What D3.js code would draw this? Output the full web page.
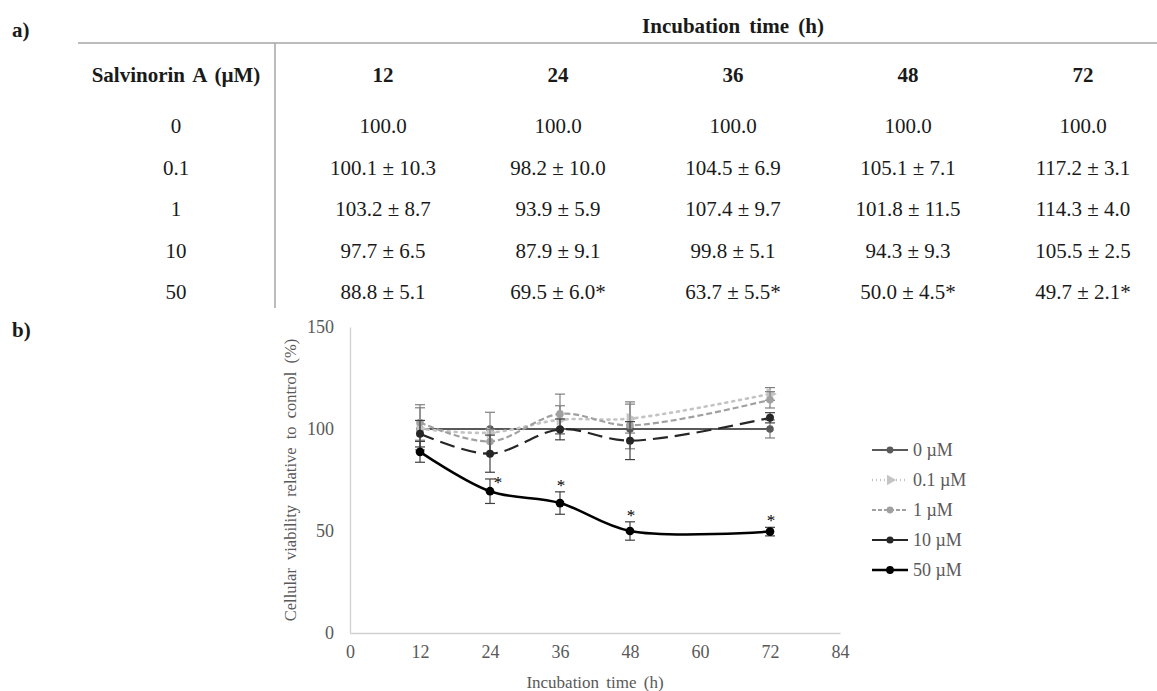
<!DOCTYPE html>
<html lang="en">
<head>
    <meta charset="UTF-8">
    <title>Salvinorin A viability</title>
    <script src="https://d3js.org/d3.v7.min.js"></script>
    <style>
        body { margin: 0; background: #fff; }
        svg { display: block; font-family: "Liberation Serif", "Times New Roman", serif; }
        .tbl { fill: #1a1a1a; font-size: 21px; }
        .bold { font-weight: bold; }
        .axis text { fill: #595959; font-size: 18px; font-family: "Liberation Serif", serif; }
        .axis path, .axis line { stroke: #d0d0d0; }
    </style>
</head>
<body>
<div id="chart"></div>
<script>
    // Data
    const times = [12, 24, 36, 48, 72];
    const concLabels = ["0", "0.1", "1", "10", "50"];
    const seriesNames = ["0 µM", "0.1 µM", "1 µM", "10 µM", "50 µM"];

    const mean0 = [100.0, 100.0, 100.0, 100.0, 100.0];
    const mean01 = [100.1, 98.2, 104.5, 105.1, 117.2];
    const mean1 = [103.2, 93.9, 107.4, 101.8, 114.3];
    const mean10 = [97.7, 87.9, 99.8, 94.3, 105.5];
    const mean50 = [88.8, 69.5, 63.7, 50.0, 49.7];

    const sd0 = [null, null, null, null, null];
    const sd01 = [10.3, 10.0, 6.9, 7.1, 3.1];
    const sd1 = [8.7, 5.9, 9.7, 11.5, 4.0];
    const sd10 = [6.5, 9.1, 5.1, 9.3, 2.5];
    const sd50 = [5.1, 6.0, 5.5, 4.5, 2.1];

    // error bar drawn for the control in panel b (not listed in the table)
    const plotErr0 = [0, 0, 0, 0, 4.4];

    const sig50 = [false, true, true, true, true];

    const xTicks = [0, 12, 24, 36, 48, 60, 72, 84];
    const yTicks = [0, 50, 100, 150];

    const means = [mean0, mean01, mean1, mean10, mean50];
    const sds = [sd0, sd01, sd1, sd10, sd50];
    const sigs = [null, null, null, null, sig50];

    const W = 1157, H = 691;
    const svg = d3.select('#chart').append('svg')
        .attr('width', W).attr('height', H);

    // ---------- a) table ----------
    svg.append('text').attr('class', 'tbl bold')
        .attr('x', 12).attr('y', 37).text('a)');

    const colX = d3.scalePoint().domain(times).range([383, 1083]);
    const rowY = d3.scalePoint().domain(concLabels).range([126, 292]);

    svg.append('line')
        .attr('x1', 78).attr('x2', W).attr('y1', 43).attr('y2', 43)
        .attr('stroke', '#a6a6a6').attr('stroke-width', 1.5);
    svg.append('line')
        .attr('x1', 275).attr('x2', 275).attr('y1', 43).attr('y2', 308)
        .attr('stroke', '#a6a6a6').attr('stroke-width', 1.5);

    svg.append('text').attr('class', 'tbl bold')
        .attr('x', colX(36)).attr('y', 33)
        .attr('text-anchor', 'middle')
        .style('word-spacing', '4px')
        .text('Incubation time (h)');

    svg.append('text').attr('class', 'tbl bold')
        .attr('x', 176).attr('y', 82)
        .attr('text-anchor', 'middle')
        .style('word-spacing', '3px')
        .text('Salvinorin A (µM)');

    svg.selectAll('.colhead').data(times).enter()
        .append('text').attr('class', 'tbl bold colhead')
        .attr('x', d => colX(d)).attr('y', 82)
        .attr('text-anchor', 'middle')
        .text(d => d);

    svg.selectAll('.rowhead').data(concLabels).enter()
        .append('text').attr('class', 'tbl rowhead')
        .attr('x', 176).attr('y', d => rowY(d) + 7)
        .attr('text-anchor', 'middle')
        .text(d => d);

    concLabels.forEach((c, i) => {
        times.forEach((t, j) => {
            const m = means[i][j].toFixed(1);
            const s = sds[i][j];
            let txt = s == null ? m : `${m} ± ${s.toFixed(1)}`;
            if (sigs[i] && sigs[i][j]) txt += '*';
            svg.append('text').attr('class', 'tbl')
                .attr('x', colX(t)).attr('y', rowY(c) + 7)
                .attr('text-anchor', 'middle')
                .text(txt);
        });
    });

    // ---------- b) line chart ----------
    svg.append('text').attr('class', 'tbl bold')
        .attr('x', 12).attr('y', 337).text('b)');

    const x = d3.scaleLinear().domain([0, 84]).range([350, 840]);
    const y = d3.scaleLinear().domain([0, 150]).range([633, 327]);

    const xAxis = svg.append('g').attr('class', 'axis')
        .attr('transform', `translate(0,${y(0)})`)
        .call(d3.axisBottom(x).tickValues(xTicks).tickSize(0).tickPadding(12));
    xAxis.select('.domain').attr('stroke', '#d0d0d0').attr('stroke-width', 1.3);

    const yAxis = svg.append('g').attr('class', 'axis')
        .attr('transform', `translate(${x(0)},0)`)
        .call(d3.axisLeft(y).tickValues(yTicks).tickSize(0).tickPadding(16));
    yAxis.select('.domain').attr('stroke', '#d0d0d0').attr('stroke-width', 1.3);

    svg.append('text')
        .attr('x', 595).attr('y', 688)
        .attr('text-anchor', 'middle')
        .attr('fill', '#595959').style('font-size', '17px')
        .style('word-spacing', '3px')
        .text('Incubation time (h)');

    svg.append('text')
        .attr('transform', `translate(296,${y(75)}) rotate(-90)`)
        .attr('text-anchor', 'middle')
        .attr('fill', '#595959').style('font-size', '16.5px')
        .style('word-spacing', '4px')
        .text('Cellular viability relative to control (%)');

    const styles = [
        { color: '#595959', width: 2, dash: null, symbol: d3.symbolCircle, size: 45, rot: 0 },
        { color: '#c4c4c4', width: 2.6, dash: '2,5', symbol: d3.symbolTriangle, size: 60, rot: 90 },
        { color: '#a0a0a0', width: 2.2, dash: '6,3', symbol: d3.symbolCircle, size: 45, rot: 0 },
        { color: '#262626', width: 2.2, dash: '15,7', symbol: d3.symbolCircle, size: 50, rot: 0 },
        { color: '#000000', width: 2.5, dash: null, symbol: d3.symbolCircle, size: 60, rot: 0 }
    ];

    const errs = [plotErr0, sd01, sd1, sd10, sd50];

    const line = d3.line()
        .x(d => x(d.t)).y(d => y(d.v))
        .curve(d3.curveCatmullRom.alpha(0.5));

    means.forEach((vals, i) => {
        const st = styles[i];
        const pts = times.map((t, j) => ({ t: t, v: vals[j], e: errs[i][j] || 0, j: j }));
        const g = svg.append('g');

        // error bars
        const ebColor = i < 3 ? '#7f7f7f' : '#404040';
        const eb = g.selectAll('.err').data(pts.filter(d => d.e > 0)).enter().append('g');
        eb.append('line')
            .attr('x1', d => x(d.t)).attr('x2', d => x(d.t))
            .attr('y1', d => y(d.v - d.e)).attr('y2', d => y(d.v + d.e))
            .attr('stroke', ebColor).attr('stroke-width', 1.2);
        [-1, 1].forEach(sgn => {
            eb.append('line')
                .attr('x1', d => x(d.t) - 5).attr('x2', d => x(d.t) + 5)
                .attr('y1', d => y(d.v + sgn * d.e)).attr('y2', d => y(d.v + sgn * d.e))
                .attr('stroke', ebColor).attr('stroke-width', 1.2);
        });

        g.append('path').datum(pts)
            .attr('d', line)
            .attr('fill', 'none')
            .attr('stroke', st.color)
            .attr('stroke-width', st.width)
            .attr('stroke-dasharray', st.dash)
            .attr('stroke-linecap', st.dash === '2,5' ? 'round' : 'butt');

        g.selectAll('.mk').data(pts).enter().append('path')
            .attr('d', d3.symbol().type(st.symbol).size(st.size))
            .attr('transform', d => `translate(${x(d.t)},${y(d.v)}) rotate(${st.rot})`)
            .attr('fill', st.color);

        if (sigs[i]) {
            // the 24 h star sits to the right of its error bar in the original
            g.selectAll('.star').data(pts.filter(d => sigs[i][d.j])).enter()
                .append('text')
                .attr('x', d => x(d.t) + (d.j === 1 ? 8 : 1))
                .attr('y', d => y(d.v + d.e) + (d.j === 1 ? 9 : -1))
                .attr('text-anchor', 'middle')
                .style('font-size', '17px').attr('fill', '#000')
                .text('*');
        }
    });

    // legend
    const legY = d3.scalePoint().domain(seriesNames).range([450, 570]);
    const leg = svg.selectAll('.leg').data(seriesNames).enter()
        .append('g').attr('transform', d => `translate(872,${legY(d)})`);
    leg.append('line')
        .attr('x1', 0).attr('x2', 36).attr('y1', 0).attr('y2', 0)
        .attr('stroke', (d, i) => styles[i].color)
        .attr('stroke-width', (d, i) => styles[i].width)
        .attr('stroke-dasharray', (d, i) => styles[i].dash ? (i === 3 ? null : styles[i].dash.replace(/\d+/g, n => Math.round(n * 0.6))) : null)
        .attr('stroke-linecap', 'butt');
    leg.append('path')
        .attr('d', (d, i) => d3.symbol().type(styles[i].symbol).size(styles[i].size * 0.8)())
        .attr('transform', (d, i) => `translate(18,0) rotate(${styles[i].rot})`)
        .attr('fill', (d, i) => styles[i].color);
    leg.append('text')
        .attr('x', 41).attr('y', 6)
        .attr('fill', '#595959').style('font-size', '18px')
        .text(d => d);
</script>
</body>
</html>
